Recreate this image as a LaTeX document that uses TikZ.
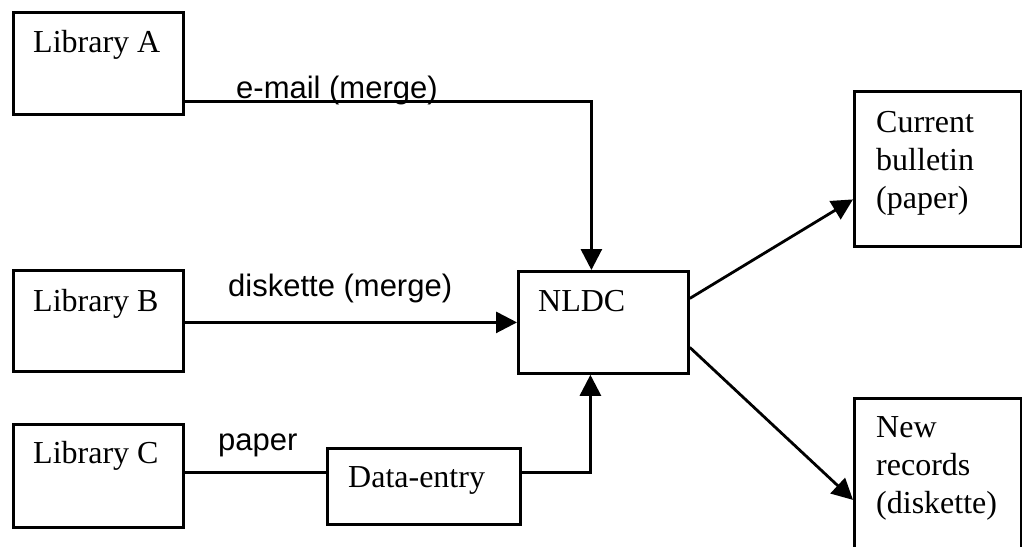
\documentclass[tikz,border=0pt]{standalone}
\usepackage{fontspec}
\setmainfont{Liberation Serif}
\newfontfamily\lsans{Liberation Sans}
\usetikzlibrary{arrows.meta,calc}
\begin{document}
\begin{tikzpicture}[x=1pt,y=-1pt,
  box/.style={draw,line width=2.8pt,inner sep=0pt,anchor=north west},
  txt/.style={inner sep=0pt,anchor=base west,font=\fontsize{32}{38}\selectfont,align=left},
  lbl/.style={inner sep=0pt,anchor=base west,font=\lsans\fontsize{31}{36}\selectfont},
  conn/.style={line width=2.8pt},
  arr/.style={conn,-{Triangle[length=21pt,width=21pt]}}]
\useasboundingbox (0,0) rectangle (1022,546);
\clip (0,0) rectangle (1022,546);
% boxes
\node[box,minimum width=170pt,minimum height=102pt] (A) at (12,11) {};
\node[box,minimum width=170pt,minimum height=101pt] (B) at (12,269) {};
\node[box,minimum width=170pt,minimum height=103pt] (C) at (12,423) {};
\node[box,minimum width=170pt,minimum height=102pt] (N) at (517,270) {};
\node[box,minimum width=193pt,minimum height=76pt] (D) at (326,447) {};
\node[box,minimum width=167pt,minimum height=155pt] (CB) at (853,90) {};
\node[box,minimum width=167pt,minimum height=203pt] (NR) at (853,397) {};
% box texts
\node[txt] (tA) at (33,52) {Library A};
\node[txt] (tB) at (33,311) {Library B};
\node[txt] (tC) at (33,463) {Library C};
\node[txt] (tN) at (538,311) {NLDC};
\node[txt] (tD) at (348,487) {Data-entry};
\node[txt] (tCB) at (876,208) {Current\\bulletin\\(paper)};
\node[txt] (tNR) at (876,513) {New\\records\\(diskette)};
% connector labels
\node[lbl] (le) at (236,98) {e-mail (merge)};
\node[lbl] (ld) at (228,296) {diskette (merge)};
\node[lbl] (lp) at (218,450) {paper};
% connectors
\coordinate (a1) at ([yshift=-38pt]A.east);
\draw[arr] (a1) -| ([xshift=-12pt]N.north);
\draw[arr] (B.east |- N.west) -- (N.west);
\coordinate (c1) at ([yshift=3.5pt]C.east);
\draw[conn] (c1) -- (c1 -| D.west);
\coordinate (d1) at ([yshift=14pt]D.east);
\draw[arr] (d1) -| ([xshift=-13pt]N.south);
\draw[arr] ([yshift=24pt]N.east) -- ([yshift=-30.5pt]CB.west);
\draw[arr] ([yshift=-25pt]N.east) -- (NR.west);
\end{tikzpicture}
\end{document}
